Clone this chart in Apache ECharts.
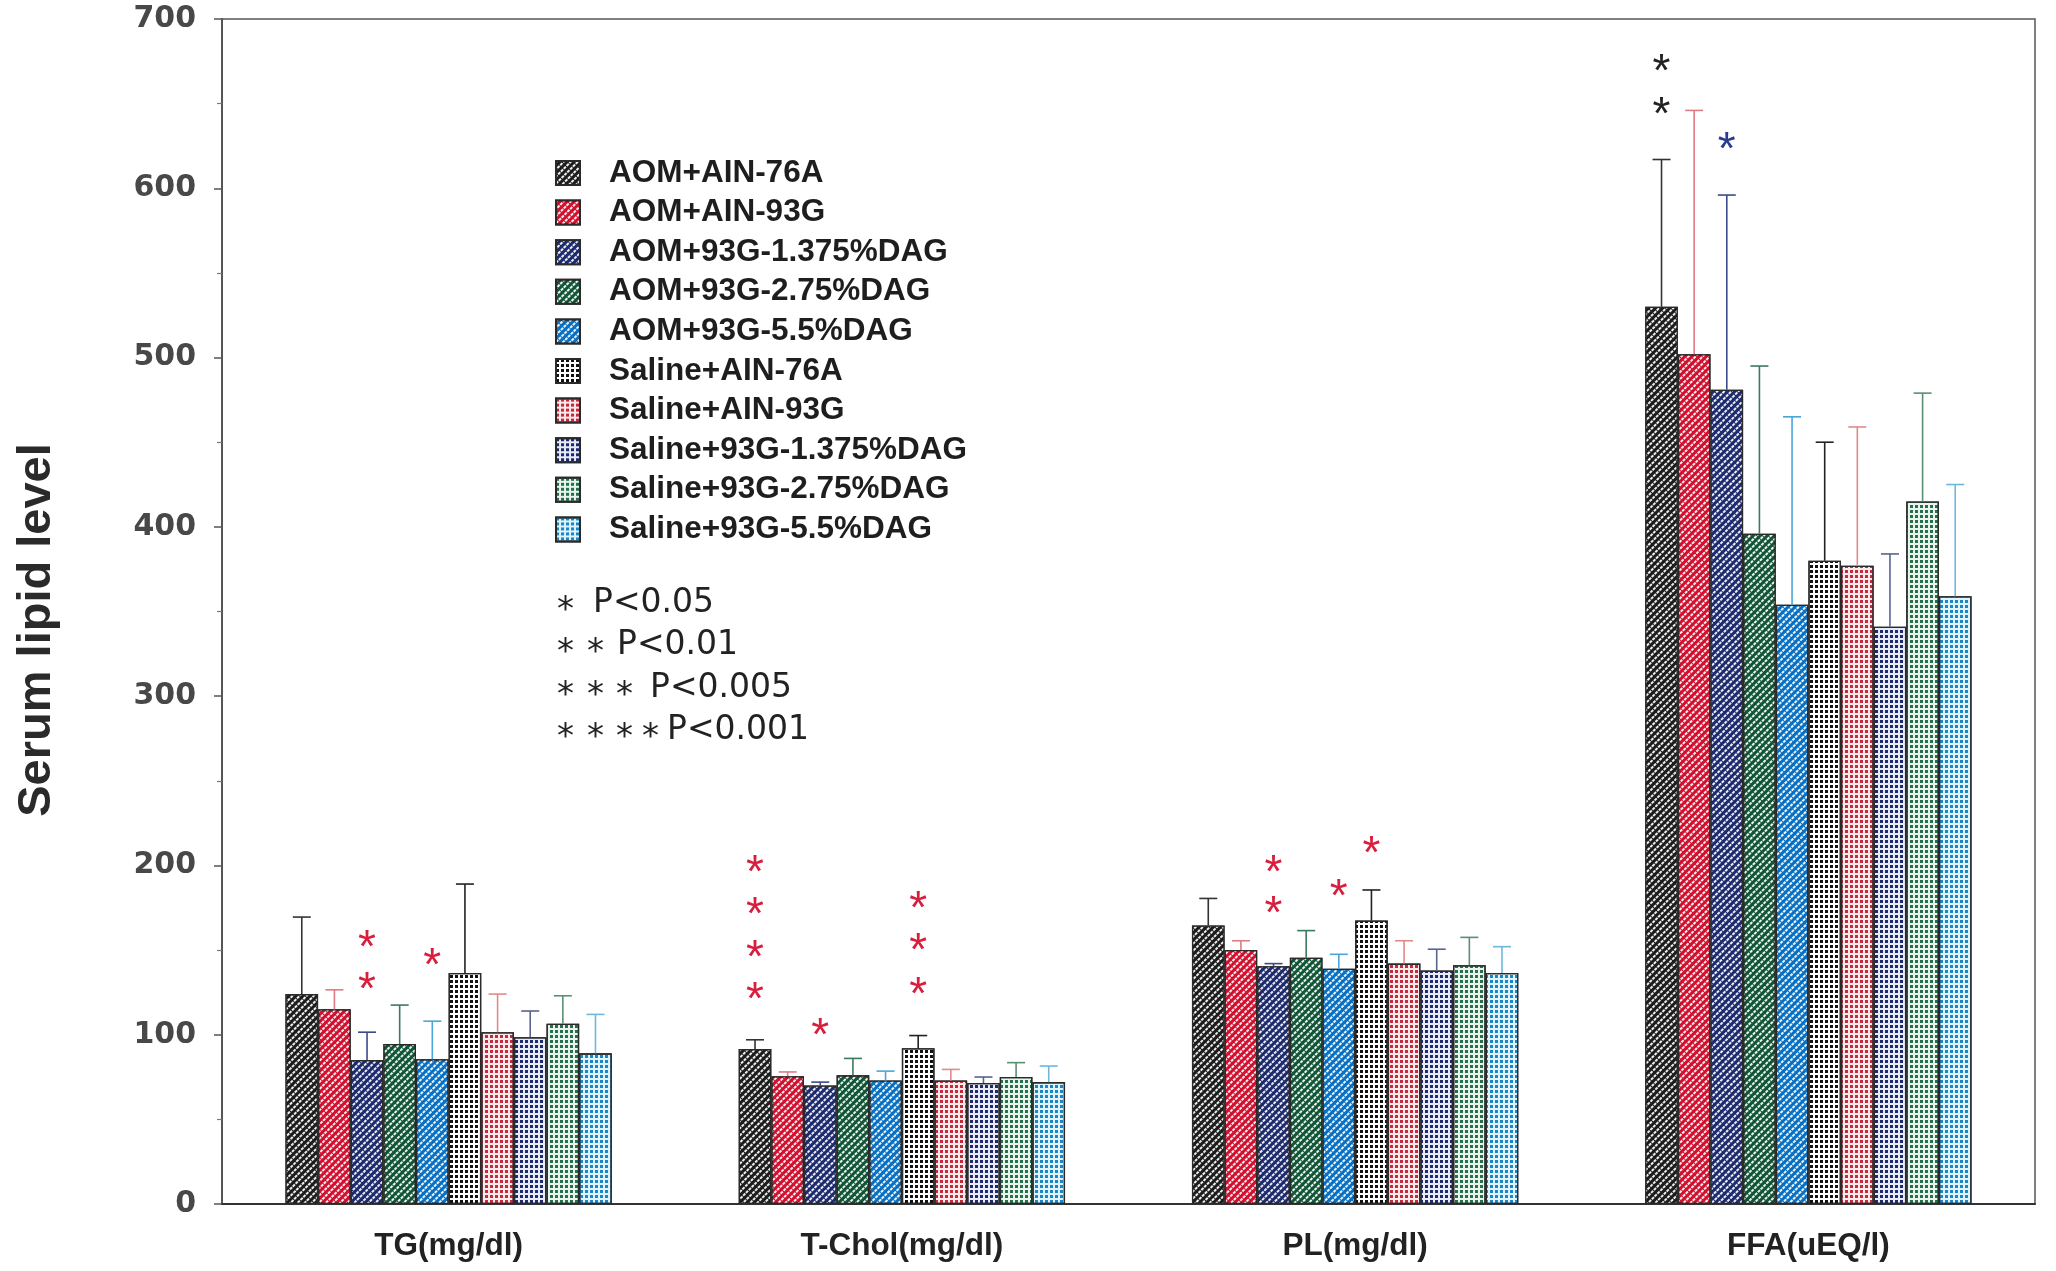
<!DOCTYPE html>
<html><head><meta charset="utf-8">
<script src="https://cdn.jsdelivr.net/npm/echarts@6/dist/echarts.min.js"></script>
<style>html,body{margin:0;padding:0;background:#fff}#c{width:2056px;height:1271px}</style>
</head><body><div id="c"></div>
<script>
// ---- data ----
const categories = ['TG(mg/dl)', 'T-Chol(mg/dl)', 'PL(mg/dl)', 'FFA(uEQ/l)'];
const seriesNames = ['AOM+AIN-76A', 'AOM+AIN-93G', 'AOM+93G-1.375%DAG', 'AOM+93G-2.75%DAG', 'AOM+93G-5.5%DAG',
  'Saline+AIN-76A', 'Saline+AIN-93G', 'Saline+93G-1.375%DAG', 'Saline+93G-2.75%DAG', 'Saline+93G-5.5%DAG'];
// means per category, in series order
const tgMean    = [124, 115, 85, 94.5, 85.5, 136.5, 101.5, 98.5, 106.5, 89];
const tcholMean = [91.5, 75.5, 70, 76, 73, 92, 73, 71.5, 75, 72];
const plMean    = [164.5, 150, 140.5, 145.5, 139, 167.5, 142, 138, 141, 136.5];
const ffaMean   = [530, 502, 481, 396, 354, 380, 377, 341, 415, 359];
// SD (upper error bar length)
const tgSD    = [45.5, 11.5, 16.5, 23, 22.5, 52.5, 22.5, 15.5, 16.5, 23];
const tcholSD = [5.5, 2.5, 2, 10, 5.5, 7.5, 6.5, 3.5, 8.5, 9.5];
const plSD    = [16, 5.5, 1.5, 16, 8.5, 18, 13.5, 12.5, 16.5, 15.5];
const ffaSD   = [87, 144, 115, 99, 111, 70, 82, 43, 64, 66];
// significance asterisks: [categoryIndex, seriesIndex, yValue, colorKey]
const asterisks = [
  [0, 2, 156, 'r'], [0, 2, 131, 'r'], [0, 4, 145, 'r'],
  [1, 0, 200, 'r'], [1, 0, 175, 'r'], [1, 0, 150, 'r'], [1, 0, 125, 'r'], [1, 2, 104, 'r'],
  [1, 5, 179, 'r'], [1, 5, 154, 'r'], [1, 5, 128, 'r'],
  [2, 2, 200, 'r'], [2, 2, 176, 'r'], [2, 4, 186, 'r'], [2, 5, 211, 'r'],
  [3, 0, 673, 'k'], [3, 0, 648, 'k'], [3, 2, 627, 'b']
];
const pStars  = ['*', '**', '***', '****'];
const pLabels = ['P<0.05', 'P<0.01', 'P<0.005', 'P<0.001'];

// ---- styles ----
const means = [tgMean, tcholMean, plMean, ffaMean];
const sds = [tgSD, tcholSD, plSD, ffaSD];
const mainCol = ['#1c1c1c', '#d0102e', '#1d2a6e', '#0f5536', '#0870c2',
                 '#111111', '#c42a3c', '#1d2a6e', '#24704c', '#1a86c6'];
const bgCol = ['#1c1c1c', '#d0102e', '#1d2a6e', '#0f5536', '#0870c2',
               '#ffffff', '#fbeaec', '#e8eaf6', '#e9f4ed', '#dff3fb'];
const errCol = ['#333333', '#e07a84', '#3a4a8c', '#3c7a5c', '#4aa6da',
                '#222222', '#e08a8a', '#56648f', '#5a8f74', '#6cb8dc'];
const starCol = { r: '#d81e3c', k: '#222222', b: '#2a3a8c' };
const pStarX = [557, 587, 616, 642];
const pLabelX = [593, 617, 650, 667];

const stripe = { symbol: 'rect', symbolSize: 1, dashArrayX: [3, 1], dashArrayY: [1.5, 3], rotation: -Math.PI / 4, color: 'rgba(255,255,255,0.92)' };

const barSeries = seriesNames.map((name, s) => ({
  name, type: 'bar', barGap: '0%', barCategoryGap: '28%',
  data: means.map(m => m[s]),
  itemStyle: {
    color: bgCol[s], borderColor: '#2a2a2a', borderWidth: 1.3,
    decal: s < 5 ? stripe : { symbol: 'rect', symbolSize: 1, dashArrayX: [2.4, 1.8], dashArrayY: [2.4, 1.8], color: mainCol[s] }
  },
  z: 2
}));

const errData = [];
means.forEach((m, c) => m.forEach((v, s) => errData.push([c, s, v, v + sds[c][s]])));

const pTexts = [];
pStars.forEach((t, i) => {
  const y = 603 + i * 42.5;
  t.split('').forEach((ch, k) => pTexts.push({ type: 'text', x: pStarX[k], y: y + 8,
    style: { text: ch, font: '34px "DejaVu Sans", sans-serif', fill: '#222', textAlign: 'left', textVerticalAlign: 'middle' } }));
  pTexts.push({ type: 'text', x: pLabelX[i], y: y,
    style: { text: pLabels[i], font: '33px "DejaVu Sans", sans-serif', fill: '#222', textAlign: 'left', textVerticalAlign: 'middle' } });
});

const chart = echarts.init(document.getElementById('c'), null, { renderer: 'canvas' });
chart.setOption({
  animation: false,
  backgroundColor: '#ffffff',
  grid: { left: 222, right: 21, top: 19, bottom: 67, show: true, borderColor: '#555', borderWidth: 1.5 },
  legend: {
    data: seriesNames, orient: 'vertical', left: 550, top: 152, padding: 5,
    icon: 'rect', itemWidth: 24, itemHeight: 24, itemGap: 7.6,
    textStyle: { fontFamily: 'Liberation Sans, Arial, sans-serif', fontWeight: 'bold', fontSize: 31.5, color: '#1e1e1e', lineHeight: 30, padding: [0, 0, 0, 24] }
  },
  xAxis: {
    type: 'category', data: categories,
    axisLine: { lineStyle: { color: '#333', width: 2 } },
    axisTick: { show: false },
    axisLabel: { margin: 26, fontFamily: 'Liberation Sans, Arial, sans-serif', fontWeight: 'bold', fontSize: 31.5, color: '#222' }
  },
  yAxis: {
    type: 'value', min: 0, max: 700, interval: 100,
    splitLine: { show: false },
    axisLine: { show: true, lineStyle: { color: '#555', width: 2 } },
    axisTick: { show: true, length: 8, lineStyle: { color: '#555', width: 1.5 } },
    minorTick: { show: true, splitNumber: 2, length: 5, lineStyle: { color: '#777', width: 1.2 } },
    axisLabel: { margin: 26, fontFamily: 'DejaVu Sans, sans-serif', fontWeight: 'bold', fontSize: 30, color: '#484848' }
  },
  graphic: [
    { type: 'text', x: 37, y: 630, rotation: Math.PI / 2,
      style: { text: 'Serum lipid level', font: 'bold 47px "Liberation Sans", Arial, sans-serif', fill: '#2a2a2a', textAlign: 'center', textVerticalAlign: 'middle' } }
  ].concat(pTexts),
  series: barSeries.concat([
    {
      type: 'custom', z: 5, data: errData, encode: { x: 0, y: [2, 3] },
      renderItem: (params, api) => {
        const c = api.value(0), s = api.value(1);
        const band = api.size([1, 0])[0];
        const bw = band * 0.72 / 10;
        const cx = api.coord([c, 0])[0] - band * 0.36 + bw * (s + 0.5);
        const y0 = api.coord([c, api.value(2)])[1];
        const y1 = api.coord([c, api.value(3)])[1];
        const col = errCol[s];
        return { type: 'group', children: [
          { type: 'line', shape: { x1: cx, y1: y0, x2: cx, y2: y1 }, style: { stroke: col, lineWidth: 1.6 } },
          { type: 'line', shape: { x1: cx - 9, y1: y1, x2: cx + 9, y2: y1 }, style: { stroke: col, lineWidth: 1.6 } }
        ] };
      }
    },
    {
      type: 'custom', z: 6, data: asterisks.map(a => [a[0], a[1], a[2]]), encode: { x: 0, y: 2 },
      renderItem: (params, api) => {
        const c = api.value(0), s = api.value(1);
        const band = api.size([1, 0])[0];
        const bw = band * 0.72 / 10;
        const cx = api.coord([c, 0])[0] - band * 0.36 + bw * (s + 0.5);
        const cy = api.coord([c, api.value(2)])[1];
        return { type: 'text', x: cx, y: cy + 9,
          style: { text: '*', font: '46px "Liberation Sans", Arial, sans-serif', fill: starCol[asterisks[params.dataIndex][3]], textAlign: 'center', textVerticalAlign: 'middle' } };
      }
    }
  ])
});
</script></body></html>
